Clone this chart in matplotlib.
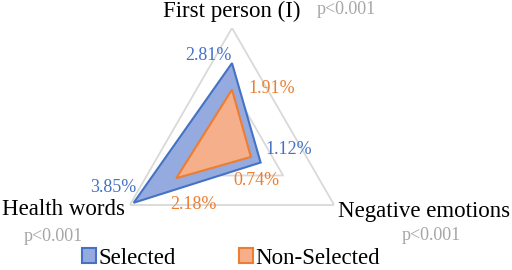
import numpy as np
import matplotlib
matplotlib.use("Agg")
import matplotlib.pyplot as plt

categories = ["First person (I)", "Negative emotions", "Health words"]
p_values = ["p<0.001", "p<0.001", "p<0.001"]
selected = [2.81, 1.12, 3.85]
non_selected = [1.91, 0.74, 2.18]
series_names = ["Selected", "Non-Selected"]
grid_levels = [2, 4]

plt.rcParams['font.family'] = ['Liberation Serif', 'DejaVu Serif']

W, H = 512, 270
fig = plt.figure(figsize=(W / 100, H / 100), dpi=100)
cx, cy, R = 232, 146, 118
ax = fig.add_axes([(cx - R) / W, (H - cy - R) / H, 2 * R / W, 2 * R / H], projection='polar')
ax.set_theta_zero_location('N')
ax.set_theta_direction(-1)
ax.set_ylim(0, 4)
ax.axis('off')

theta = np.array([0, 2 * np.pi / 3, 4 * np.pi / 3])
tc = np.append(theta, theta[0])

for lv in grid_levels:
    ax.plot(tc, [lv] * 4, color='#D9D9D9', lw=1.3, zorder=1)

blue_e, blue_f = '#4472C4', '#95AADF'
org_e, org_f = '#ED7D31', '#F5B08B'

s_vals = np.append(selected, selected[0])
n_vals = np.append(non_selected, non_selected[0])
p1 = ax.fill(tc, s_vals, facecolor=blue_f, edgecolor=blue_e, lw=1.5, zorder=2, label=series_names[0])[0]
p2 = ax.fill(tc, n_vals, facecolor=org_f, edgecolor=org_e, lw=1.5, zorder=3, label=series_names[1])[0]

# label offsets in pixels (dx right, dy up) relative to point, baseline-anchored
s_off = [(-23.5, 3), (28, 8.5), (-20.6, 10.8)]
n_off = [(39.5, -3.3), (6, -28), (16.7, -30.8)]
for i in range(3):
    dx, dy = s_off[i]
    ax.annotate(f"{selected[i]:.2f}%", xy=(theta[i], selected[i]), xytext=(dx * 0.72, dy * 0.72),
                textcoords='offset points', ha='center', va='baseline', color=blue_e, fontsize=13, zorder=5)
    dx, dy = n_off[i]
    ax.annotate(f"{non_selected[i]:.2f}%", xy=(theta[i], non_selected[i]), xytext=(dx * 0.72, dy * 0.72),
                textcoords='offset points', ha='center', va='baseline', color=org_e, fontsize=13, zorder=5)

# category labels
cat_fs = 16.5
fig.text(232 / W, 1 - 17 / H, categories[0], ha='center', va='baseline', fontsize=cat_fs, color='black')
fig.text(317 / W, 1 - 13.5 / H, p_values[0], ha='left', va='baseline', fontsize=13, color='#A6A6A6')
fig.text(510 / W, 1 - 217 / H, categories[1], ha='right', va='baseline', fontsize=cat_fs, color='black')
fig.text(431 / W, 1 - 240 / H, p_values[1], ha='center', va='baseline', fontsize=13, color='#A6A6A6')
fig.text(2 / W, 1 - 215 / H, categories[2], ha='left', va='baseline', fontsize=cat_fs, color='black')
fig.text(53 / W, 1 - 241 / H, p_values[2], ha='center', va='baseline', fontsize=13, color='#A6A6A6')

fig.legend(handles=[p1, p2], labels=series_names, loc='center', bbox_to_anchor=(231 / W, 1 - 258 / H),
           ncol=2, frameon=False, fontsize=16.5, handlelength=0.6, handleheight=0.6,
           handletextpad=0.1, columnspacing=2.75, borderpad=0, borderaxespad=0)

fig.savefig("out.png", dpi=100)
